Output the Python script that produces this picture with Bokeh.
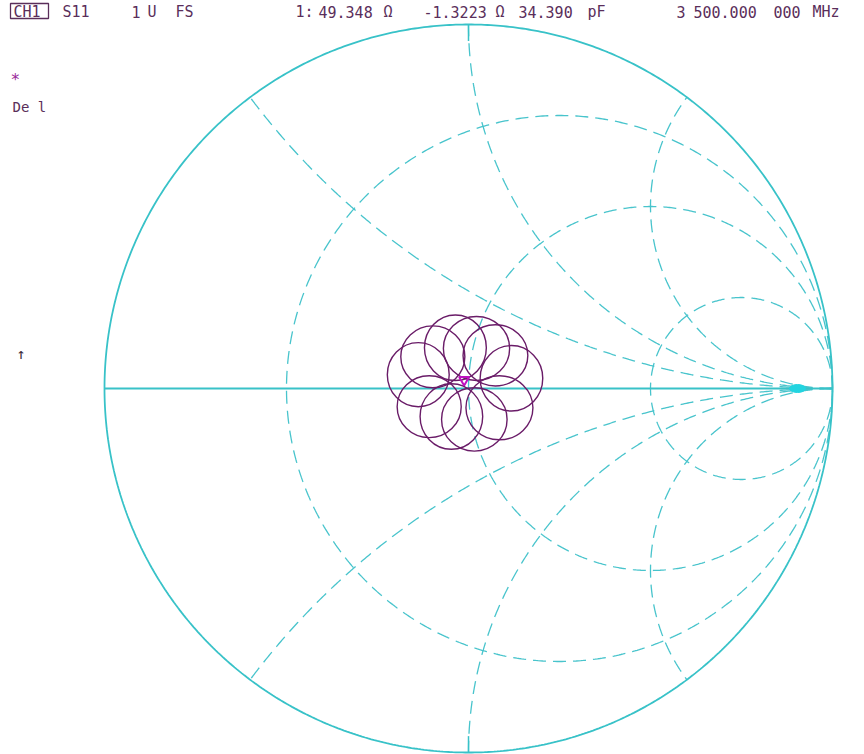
import numpy as np
from bokeh.plotting import figure
from bokeh.models import Range1d
from bokeh.core.properties import value
from bokeh.embed import file_html
from bokeh.resources import INLINE

# ---------------- data ----------------
# Smith chart grid values (normalized resistance / reactance)
r_values = [1/3, 1.0, 3.0]
x_values = [0.5, 1.0, 2.0]

# Trace loops (reflection coefficient units):
# centre, horizontal / vertical diameter
loop_gx = [-0.138, -0.098, -0.036, 0.022, 0.074, 0.118, 0.085, 0.016, -0.047, -0.108]
loop_gy = [0.038, 0.087, 0.112, 0.110, 0.091, 0.028, -0.053, -0.085, -0.077, -0.050]
loop_w = [0.170, 0.176, 0.170, 0.182, 0.178, 0.172, 0.184, 0.180, 0.172, 0.176]
loop_h = [0.176, 0.170, 0.180, 0.176, 0.168, 0.180, 0.176, 0.174, 0.180, 0.170]

marker_gx = [-0.012]
marker_gy = [0.024]

header_tokens = ["CH1", "S11", "1", "U", "FS", "1:", "49.348", "\u03a9",
                 "-1.3223", "\u03a9", "34.390", "pF", "3", "500.000", "000", "MHz"]
header_left = [13, 62, 131, 147, 175, 295, 318, 383, 423, 495, 518, 587, 676, 693, 773, 812]

# ---------------- layout ----------------
CX, CY, R = 468.0, 388.0, 364.0   # chart centre / radius in canvas pixels
W, H = 864, 754


def gx(px):
    return (px - CX) / R


def gy(py):
    return (CY - py) / R


p = figure(width=W, height=H, output_backend="svg", toolbar_location=None,
           x_range=Range1d(-CX / R, (W - CX) / R),
           y_range=Range1d(-(H - CY) / R, CY / R),
           x_axis_type=None, y_axis_type=None, min_border=0)
p.grid.visible = False
p.outline_line_color = None
p.background_fill_color = "white"

grid_col = "#48c4cc"
solid_col = "#38c2c8"

# resistance circles (dashed)
xs, ys = [], []
t = np.linspace(0, 2 * np.pi, 721)
for r in r_values:
    c = r / (1 + r)
    rad = 1 / (1 + r)
    xs.append(c + rad * np.cos(t))
    ys.append(rad * np.sin(t))

# reactance arcs (dashed), both signs
for x in x_values:
    start = -np.pi / 2
    ex = -2 / (x * x + 1)
    ey = (x * x - 1) / (x * (x * x + 1))
    end = np.arctan2(ey, ex)
    if end > start:
        end -= 2 * np.pi
    a = np.linspace(start, end, 400)
    ax = 1 + (1 / x) * np.cos(a)
    ay = 1 / x + (1 / x) * np.sin(a)
    xs.append(ax)
    ys.append(ay)
    xs.append(ax)
    ys.append(-ay)

p.multi_line(xs, ys, line_color=grid_col, line_width=1.3, line_dash="13 7")

# outer circle and real axis (solid)
p.line(np.cos(t), np.sin(t), line_color=solid_col, line_width=1.8)
p.line([-1, 1], [0, 0], line_color=solid_col, line_width=2.2)
p.line([0, 0], [1, 0.955], line_color=solid_col, line_width=1.5)
p.line([0, 0], [-1, -0.955], line_color=solid_col, line_width=1.5)

# cyan blob near right end of axis
p.ellipse([gx(797)], [gy(388)], width=16 / R, height=8 / R,
          fill_color="#22d4e0", line_color="#22d4e0")

# trace loops
p.ellipse(loop_gx, loop_gy, width=loop_w, height=loop_h,
          fill_alpha=0, line_color="#6a1c68", line_width=1.4)
p.scatter(marker_gx, marker_gy, marker="inverted_triangle", size=10,
          fill_alpha=0, line_color="#c010c0", line_width=2)

# header text
txt_col = "#5a2e5a"
p.text([gx(v) for v in header_left], [gy(11)] * len(header_left), text=header_tokens,
       text_font=value("DejaVu Sans Mono"), text_font_size="15px",
       text_color=txt_col, text_baseline="middle", text_align="left")
p.quad(left=[gx(10)], right=[gx(48)], top=[gy(3)], bottom=[gy(18)],
       fill_alpha=0, line_color=txt_col, line_width=1.3)

p.text([gx(10)], [gy(79)], text=["*"], text_font=value("DejaVu Sans Mono"),
       text_font_size="16px", text_color="#9a2a9a", text_baseline="middle")
p.text([gx(12)], [gy(106)], text=["De l"], text_font=value("DejaVu Sans Mono"),
       text_font_size="14px", text_color=txt_col, text_baseline="middle")
p.text([gx(16)], [gy(353)], text=["\u2191"], text_font=value("DejaVu Sans Mono"),
       text_font_size="15px", text_color="#3a2a3a", text_baseline="middle")

open("out.html", "w").write(file_html(p, INLINE))
